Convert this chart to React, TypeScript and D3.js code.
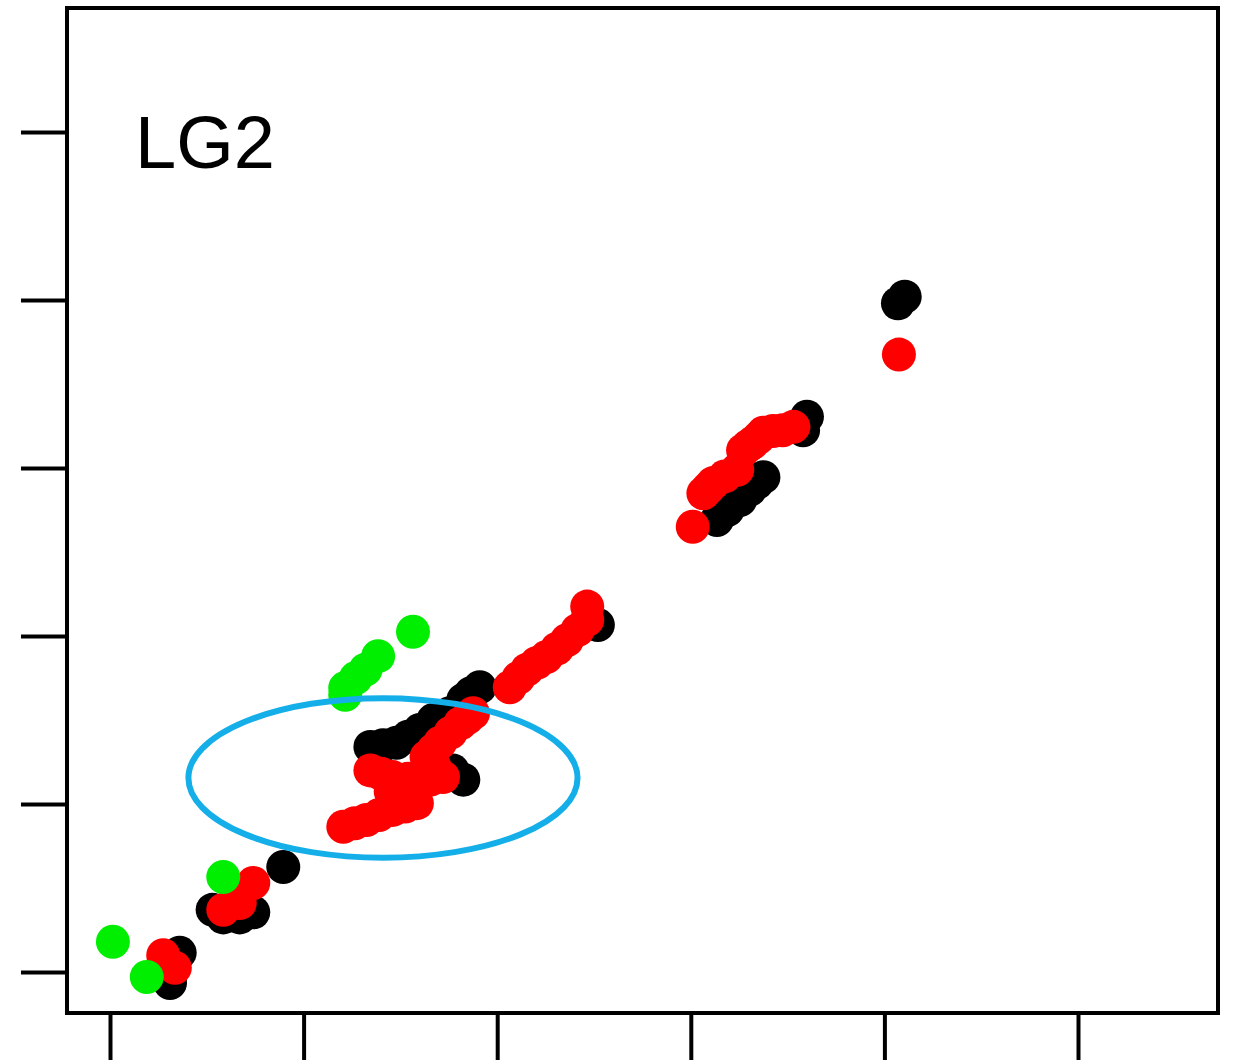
import * as d3 from "d3";
import { useEffect, useRef } from "react";

// axis ticks (no labels shown in the figure)
const xTicks = [0, 20, 40, 60, 80, 100];
const yTicks = [0, 20, 40, 60, 80, 100];

const panelLabel = "LG2";

// black series (drawn first)
const blackPoints: [number, number][] = [
  [6.2, -1.3], [7.2, 2.3], [10.6, 7.4], [11.7, 6.5], [13.4, 6.5], [14.8, 7.1],
  [17.9, 12.5], [26.9, 26.8], [28.2, 27.0], [29.6, 27.3], [30.8, 28.0],
  [32.0, 28.8], [33.4, 30.0], [34.2, 30.4], [35.1, 30.8], [36.5, 32.4],
  [37.3, 33.2], [38.2, 33.9], [35.4, 24.0], [36.5, 22.9], [50.4, 41.3],
  [62.7, 53.8], [63.8, 55.0], [65.1, 56.2], [66.1, 57.4], [66.8, 58.2],
  [67.5, 58.9], [71.6, 64.5], [72.0, 66.1], [81.4, 79.6], [82.1, 80.4],
];

// red series
const redPoints: [number, number][] = [
  [5.5, 2.0], [6.7, 0.5], [11.7, 7.4], [13.4, 8.2], [14.8, 10.6],
  [24.1, 17.3], [25.3, 17.7], [26.5, 18.1], [27.8, 18.7], [29.2, 19.3],
  [30.5, 19.7], [31.7, 20.1], [26.9, 24.0], [28.0, 23.6], [29.2, 23.2],
  [29.0, 21.5], [31.5, 22.0], [30.8, 23.0], [32.0, 22.7], [33.1, 22.9],
  [34.4, 23.2], [33.5, 24.5], [32.7, 25.6], [33.4, 26.4], [34.1, 27.3],
  [35.2, 28.5], [36.2, 29.6], [36.9, 30.2], [37.5, 30.8], [41.3, 33.9],
  [42.2, 35.0], [43.1, 36.0], [44.1, 36.8], [45.1, 37.5], [46.2, 38.5],
  [47.2, 39.5], [48.3, 40.7], [49.3, 41.9], [49.3, 43.5], [60.2, 53.0],
  [61.3, 57.0], [61.8, 57.6], [62.3, 58.2], [63.5, 59.0], [64.8, 59.8],
  [65.4, 62.1], [65.9, 62.6], [66.4, 63.0], [67.0, 63.6], [67.5, 64.2],
  [68.5, 64.4], [69.5, 64.5], [70.6, 64.9], [81.5, 73.5],
];

// green series (drawn last)
const greenPoints: [number, number][] = [
  [0.3, 3.6], [3.8, -0.6], [11.7, 11.3], [24.3, 33.8], [24.3, 33.0],
  [25.4, 35.0], [26.4, 36.0], [27.7, 37.6], [31.3, 40.5],
];

// highlighted region: center and half-widths in data units
const highlight = { cx: 28.2, cy: 23.1, rx: 20.1, ry: 9.5 };

function App() {
  const ref = useRef<SVGSVGElement>(null);

  useEffect(() => {
    const svg = d3.select(ref.current);
    svg.selectAll("*").remove();

    const width = 1233;
    const height = 1064;

    // plot box
    const left = 67;
    const right = 1218;
    const top = 8;
    const bottom = 1013;

    const xScale = d3.scaleLinear().domain([0, 100]).range([110, 1078]);
    const yScale = d3.scaleLinear().domain([0, 100]).range([972, 132]);

    svg.attr("width", width).attr("height", height);

    // x axis ticks below the box
    const xAxis = svg
      .append("g")
      .attr("transform", `translate(0,${bottom})`)
      .call(
        d3.axisBottom(xScale).tickValues(xTicks).tickSize(47).tickFormat(() => "")
      );
    xAxis.select(".domain").remove();
    xAxis.selectAll(".tick line").attr("stroke", "#000").attr("stroke-width", 4);

    // y axis ticks left of the box
    const yAxis = svg
      .append("g")
      .attr("transform", `translate(${left},0)`)
      .call(
        d3.axisLeft(yScale).tickValues(yTicks).tickSize(46).tickFormat(() => "")
      );
    yAxis.select(".domain").remove();
    yAxis.selectAll(".tick line").attr("stroke", "#000").attr("stroke-width", 4);

    const r = 17;

    const drawSeries = (data: [number, number][], color: string) => {
      svg
        .append("g")
        .selectAll("circle")
        .data(data)
        .enter()
        .append("circle")
        .attr("cx", (d) => xScale(d[0]))
        .attr("cy", (d) => yScale(d[1]))
        .attr("r", r)
        .attr("fill", color);
    };

    drawSeries(blackPoints, "#000000");
    drawSeries(redPoints, "#ff0000");
    drawSeries(greenPoints, "#00ee00");

    // box frame
    svg
      .append("rect")
      .attr("x", left)
      .attr("y", top)
      .attr("width", right - left)
      .attr("height", bottom - top)
      .attr("fill", "none")
      .attr("stroke", "#000")
      .attr("stroke-width", 4);

    // panel label
    svg
      .append("text")
      .attr("x", 135)
      .attr("y", 168)
      .attr("font-family", "Liberation Sans, Arial, sans-serif")
      .attr("font-size", 74)
      .attr("fill", "#000")
      .text(panelLabel);

    // highlight ellipse
    const cx = xScale(highlight.cx);
    const cy = yScale(highlight.cy);
    svg
      .append("ellipse")
      .attr("cx", cx)
      .attr("cy", cy)
      .attr("rx", xScale(highlight.cx + highlight.rx) - cx)
      .attr("ry", cy - yScale(highlight.cy + highlight.ry))
      .attr("fill", "none")
      .attr("stroke", "#14aee8")
      .attr("stroke-width", 6);
  }, []);

  return (
    <svg
      ref={ref}
      style={{ position: "absolute", left: 0, top: 0, background: "#fff" }}
    />
  );
}

export default App;
